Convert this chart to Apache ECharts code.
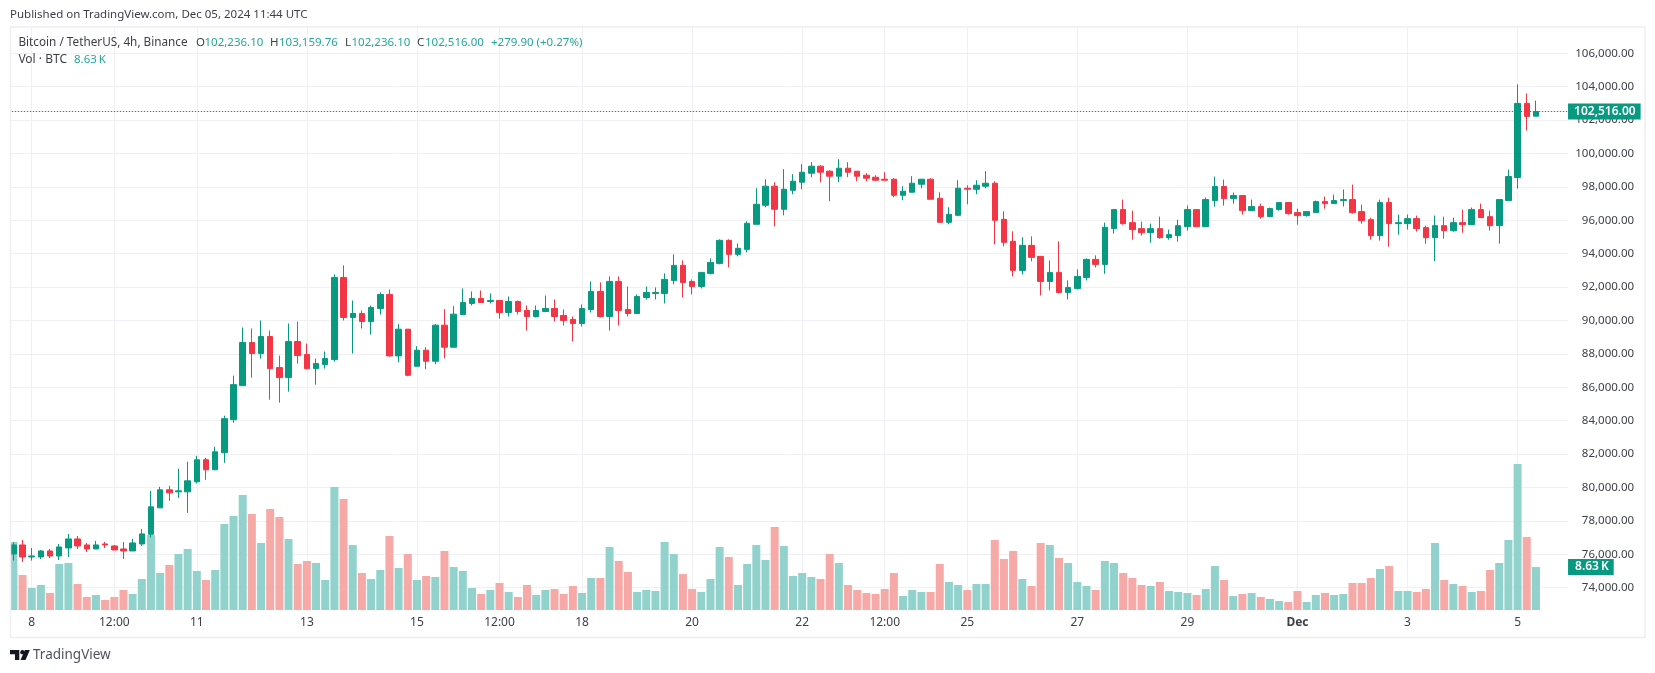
<!DOCTYPE html>
<html><head><meta charset="utf-8">
<style>html,body{margin:0;padding:0;background:#fff}#c{width:1655px;height:673px}</style>
<script src="https://cdn.jsdelivr.net/npm/echarts@6/dist/echarts.min.js"></script>
</head><body><div id="c"></div>
<script>
const opens=[76020,76560,75840,75840,76200,75900,76380,76920,76560,76320,
76620,76500,76320,76200,76620,77200,78780,79860,79740,79740,
80340,81660,81060,82080,84060,86100,88680,88020,89040,87180,
86580,88740,87960,87120,87360,87660,92580,90180,90420,89940,
90720,91560,87880,89480,87260,88220,87560,89720,88400,90360,
91020,91320,91140,91200,90480,91140,90600,90240,90540,90720,
90300,90060,89820,90660,91740,90240,92340,90660,90420,91380,
91620,91620,92400,93300,92340,92040,92820,93420,94800,93960,
94260,95760,96900,98040,96660,97800,98280,98820,99240,98940,
98640,99120,98940,98700,98580,98460,98460,97500,97680,98160,
98460,97320,95880,96300,97920,97860,98040,98220,96060,94740,
93000,94500,93840,92340,92880,91680,91920,92580,93660,93360,
95500,96640,95860,95500,95260,95500,94960,95080,95620,96640,
95620,97180,98020,97300,97480,96580,96820,96220,96640,97060,
96460,96280,96460,97120,97000,97180,97240,96520,96040,95080,
97060,95800,95800,96100,95560,94960,95680,95380,95860,95740,
96640,96220,95680,97180,98560,103000,102236.10];
const closes=[76560,75840,75900,76200,75900,76440,76920,76500,76320,76560,
76560,76260,76200,76680,77220,78840,79860,79680,79800,80400,
81660,81060,82140,84120,86160,88680,88020,89040,87120,86580,
88740,87900,87120,87420,87720,92580,90180,90420,89940,90780,
91560,87880,89480,86720,88220,87560,89720,88400,90380,91080,
91320,91080,91200,90480,91140,90540,90240,90600,90720,90240,
90000,89820,90720,91740,90240,92340,90600,90420,91440,91680,
91680,92460,93300,92280,92040,92880,93480,94800,93960,94320,
95820,96960,98040,96660,97860,98340,98880,99240,98880,98640,
99120,98880,98640,98520,98400,98400,97500,97740,98220,98460,
97260,95880,96360,97920,97860,98100,98220,96000,94680,93000,
94500,93780,92340,92880,91680,91980,92640,93660,93360,95580,
96640,95800,95440,95260,95500,94960,95140,95680,96640,95620,
97240,98020,97300,97480,96580,96820,96220,96700,97060,96400,
96280,96520,97120,97000,97180,97240,96460,95980,95080,97060,
95800,95860,96100,95500,94960,95680,95380,95860,95740,96640,
96160,95680,97240,98620,103000,102220,102516];
const highs=[76720,76860,76380,76260,76320,76620,77220,77100,76680,76800,
76740,76560,76740,76920,77520,79800,80040,80100,81120,81540,
81900,81780,82440,84300,86700,89580,89520,90000,89400,87900,
89820,89940,88620,87720,88140,92760,93300,91200,90600,90900,
91680,91860,89780,89480,88460,88400,89780,90680,90860,91920,
91740,91800,91620,91200,91440,91200,90900,90900,91500,91260,
90660,90240,90960,92340,92280,92640,92640,92040,91560,92040,
91980,92820,93960,93600,92460,92880,93720,94860,94860,94620,
95940,97920,98460,98280,99060,98760,99360,99480,99300,99000,
99660,99480,98940,98820,98700,98880,98520,98040,98640,98460,
98520,97680,96780,98400,98100,98400,98940,98340,96540,95340,
94980,95040,93840,93600,94740,92400,93060,93720,93900,95860,
96640,97240,96580,95920,95800,96220,95440,96040,96880,96640,
97360,98620,98440,97660,97480,97240,97000,96760,97060,97060,
96700,96520,97180,97420,97540,97840,98140,96940,96160,97240,
97360,96340,96340,96280,95680,96280,96220,96160,96640,96760,
97000,96580,97240,99040,104140,103600,103159.76];
const lows=[75620,75540,75620,75720,75780,75660,75840,76320,76140,76320,
76380,76260,75720,76200,76500,77000,78780,79200,79380,78480,
80240,80460,81060,81480,83880,86100,86580,87720,85260,85080,
85740,87420,87060,86160,87120,87540,90000,88020,89520,89160,
90360,87840,87500,86660,87260,87080,87380,87740,88400,90360,
90900,91080,91020,90120,90240,90360,89400,90180,90540,89940,
89700,88740,89640,90480,90180,89400,89700,90240,90420,91260,
91260,91020,92160,91380,91560,91920,92760,93360,93180,93840,
94080,95760,96780,95640,96300,97560,97860,98580,98280,97140,
98280,98580,98340,98340,98340,98400,97380,97200,97680,97920,
97260,95880,95760,96240,96960,97560,97920,94560,94440,92640,
92760,93540,91500,91800,91620,91260,91860,92400,93180,92800,
95200,95740,94840,95080,94660,94900,94840,94720,95380,95620,
95620,96820,96880,97000,96340,96580,96100,96220,96580,96340,
95740,96220,96460,96700,97000,96820,96400,95800,94840,94780,
94420,95140,95440,95320,94600,93560,94900,95320,95260,95740,
96160,95380,94600,97180,97900,101380,102236.10];
const volumesK=[13.65,7.02,4.42,5.02,3.41,9.23,9.43,5.22,2.61,3.01,
2.01,2.61,4.01,3.21,6.22,15.05,7.43,9.03,11.24,12.24,
7.83,6.02,8.03,17.26,18.87,23.08,19.27,13.45,20.27,18.67,
14.25,9.23,9.83,9.43,6.02,24.69,22.28,13.05,7.43,6.22,
8.03,14.85,8.43,11.24,6.02,6.82,6.62,11.84,8.63,7.83,
4.42,3.21,4.01,5.42,3.61,2.61,5.02,3.01,4.01,4.21,
3.21,4.82,3.41,6.42,6.42,12.64,9.83,7.63,3.61,4.01,
3.81,13.65,11.24,7.23,4.21,3.61,6.22,12.64,10.64,5.02,
9.23,13.05,10.04,16.66,12.84,6.82,7.43,6.62,6.22,11.24,
9.43,5.02,4.01,3.41,3.21,4.21,7.43,2.81,4.01,3.61,
3.61,9.23,5.62,5.02,4.01,5.22,5.22,14.05,10.24,11.84,
6.22,4.82,13.45,13.05,10.44,9.43,5.62,4.82,4.01,9.83,
9.43,7.43,6.42,5.02,4.82,5.62,3.81,3.61,3.41,3.01,
4.21,8.83,6.02,2.81,3.21,3.41,2.61,2.21,1.81,1.61,
3.81,1.61,3.01,3.41,3.01,3.21,5.42,5.42,6.42,8.23,
8.83,3.81,3.81,3.61,4.21,13.45,6.02,5.22,4.82,3.61,
3.81,8.03,9.43,14.05,29.30,14.65,8.63];
const tickLabels={2:'8',11:'12:00',20:'11',32:'13',44:'15',53:'12:00',62:'18',74:'20',86:'22',95:'12:00',104:'25',116:'27',128:'29',140:'Dec',152:'3',164:'5'};
const lastPrice=102516, lastVolK=8.63;
const publishedText='Published on TradingView.com, Dec 05, 2024 11:44 UTC';
const legendDark=[['O',196,42.5],['H',270,42.5],['L',345,42.5],['C',417,42.5]];
const legendTeal=[['102,236.10',204.5,42.5],['103,159.76',279,42.5],['102,236.10',351.5,42.5],['102,516.00',425,42.5],['+279.90 (+0.27%)',491,42.5],['8.63\u2009K',74,59.5]];

const UP='#089981',DOWN='#F23645',VUP='#92d2cc',VDOWN='#f7a9a7',GRID='#f0f0f4',FRAME='#eeeef3';
const TEXT='#3c3f47';
const FONT='"Noto Sans",sans-serif';
const SLOTS=170;
const cats=Array.from({length:SLOTS},(_,i)=>String(i));
const candle=opens.map((o,i)=>[o,closes[i],lows[i],highs[i]]);
const vols=volumesK.map((v,i)=>({value:v,itemStyle:{color:closes[i]>=opens[i]?VUP:VDOWN}}));
const isTick=i=>tickLabels[i]!==undefined;

function txt(t,x,y,fill,size,weight){return {type:'text',z:110,silent:true,style:{text:t,x:x,y:y,fill:fill,font:(weight||'normal')+' '+size+'px '+FONT,textVerticalAlign:'middle'}};}
const graphics=[
 {type:'rect',z:100,silent:true,shape:{x:0,y:0,width:10,height:673},style:{fill:'#fff'}},
 {type:'rect',z:100,silent:true,shape:{x:0,y:0,width:1655,height:26.5},style:{fill:'#fff'}},
 {type:'rect',z:101,silent:true,shape:{x:10.5,y:27,width:1634.5,height:610.5},style:{fill:'none',stroke:FRAME,lineWidth:1.5}},
 txt(publishedText,10,15,TEXT,11.5),
 txt('Bitcoin / TetherUS, 4h, Binance',18.4,42.5,TEXT,11.75),
 txt('Vol · BTC',18.4,59.5,TEXT,12),
 ...legendDark.map(a=>txt(a[0],a[1],a[2],TEXT,11.5)),
 ...legendTeal.map(a=>txt(a[0],a[1],a[2],'#26a69a',11.5)),
 txt('TradingView',33,655.5,'#50535e',13.5),
 {type:'group',z:110,silent:true,x:10,y:650,scaleX:.62,scaleY:.62,children:[
   {type:'polygon',z:110,shape:{points:[[0,0],[15,0],[15,16],[8,16],[8,7],[0,7]]},style:{fill:'#131722'}},
   {type:'circle',z:110,shape:{cx:20,cy:3.5,r:3.5},style:{fill:'#131722'}},
   {type:'polygon',z:110,shape:{points:[[24,0],[32,0],[25,16],[17,16]]},style:{fill:'#131722'}}
 ]}
];

const chart=echarts.init(document.getElementById('c'),null,{renderer:'canvas'});
chart.setOption({
 animation:false,backgroundColor:'#fff',
 grid:[
  {left:8.8,width:1559.24,top:19.9,height:601.2},
  {left:8.8,width:1559.24,top:27,height:583}
 ],
 xAxis:[
  {type:'category',gridIndex:0,data:cats,show:false,boundaryGap:true},
  {type:'category',gridIndex:1,data:cats,boundaryGap:true,
   axisLine:{show:false},axisTick:{show:false},
   splitLine:{show:true,alignWithLabel:true,interval:i=>isTick(i),lineStyle:{color:GRID,width:1}},
   axisLabel:{interval:i=>isTick(i),hideOverlap:false,margin:7,color:TEXT,fontFamily:FONT,fontSize:12,
     formatter:(v,i)=>{const s=tickLabels[+v]||'';return s==='Dec'?'{b|Dec}':s;},
     rich:{b:{fontWeight:'bold',fontFamily:FONT,fontSize:12,color:TEXT}}}}
 ],
 yAxis:[
  {type:'value',gridIndex:0,position:'right',min:72000,max:108000,interval:2000,
   axisLine:{show:false},axisTick:{show:false},
   splitLine:{show:true,showMinLine:false,showMaxLine:false,lineStyle:{color:GRID,width:1}},
   axisLabel:{align:'right',margin:66,showMinLabel:false,showMaxLabel:false,color:TEXT,fontFamily:FONT,fontSize:11.5,
     formatter:v=>v.toLocaleString('en-US',{minimumFractionDigits:2,maximumFractionDigits:2})}},
  {type:'value',gridIndex:1,min:0,max:117,show:false}
 ],
 series:[
  {type:'bar',name:'Vol',xAxisIndex:1,yAxisIndex:1,data:vols,barWidth:8,z:2,silent:true,
   markLine:{silent:true,symbol:'none',animation:false,z:20,lineStyle:{color:'rgba(0,0,0,0)',width:1},
    data:[{yAxis:lastVolK}],
    label:{show:true,position:'end',distance:0,formatter:'8.63\u2009K',color:'#fff',backgroundColor:UP,
      fontFamily:FONT,fontSize:12,fontWeight:600,align:'left',verticalAlign:'middle',padding:[2,5,2,7]}}},
  {type:'candlestick',name:'BTC',xAxisIndex:0,yAxisIndex:0,data:candle,barWidth:6,z:3,silent:true,
   itemStyle:{color:UP,color0:DOWN,borderColor:UP,borderColor0:DOWN,borderWidth:1},
   markLine:{silent:true,symbol:'none',animation:false,z:20,
    lineStyle:{color:UP,type:[1.4,1.6],width:1},
    data:[{yAxis:lastPrice}],
    label:{show:true,position:'end',distance:0,formatter:'102,516.00',color:'#fff',backgroundColor:UP,
      fontFamily:FONT,fontSize:12,fontWeight:600,align:'left',verticalAlign:'middle',padding:[2,5,2,6]}}}
 ],
 graphic:graphics
});
</script></body></html>
